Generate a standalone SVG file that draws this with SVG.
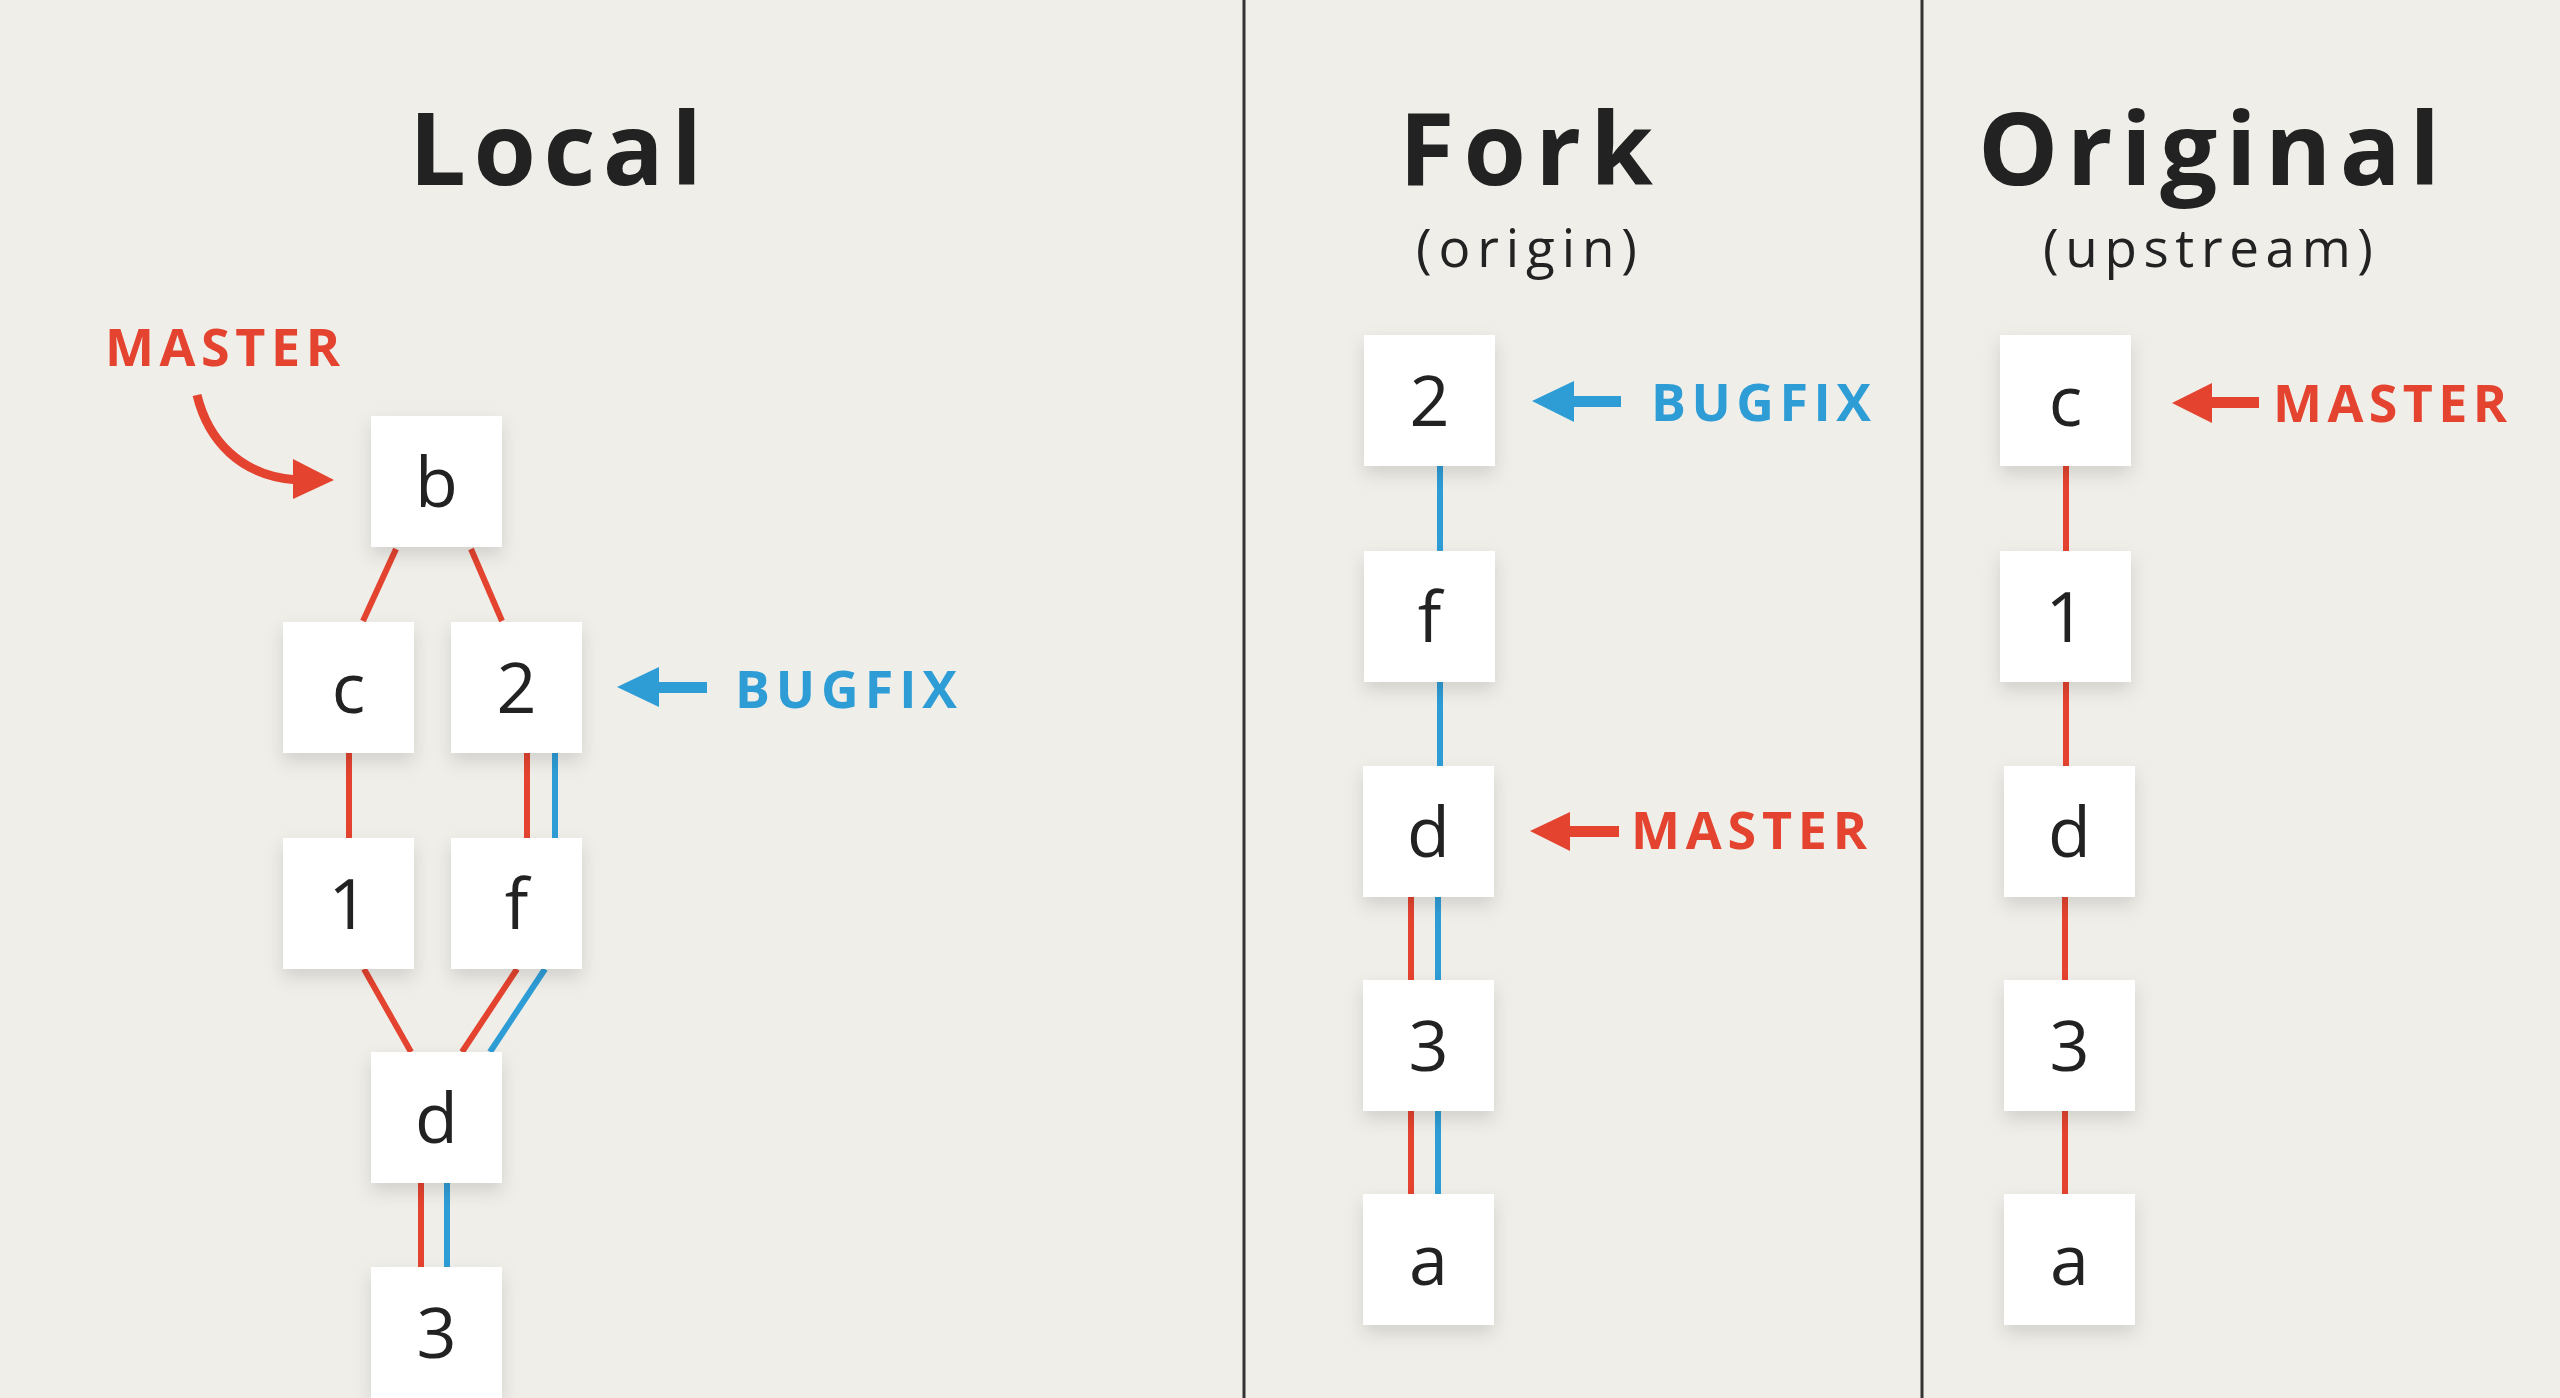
<svg xmlns="http://www.w3.org/2000/svg" width="2560" height="1398" viewBox="0 0 2560 1398">
<defs>
<filter id="sh" x="-30%" y="-30%" width="160%" height="170%">
<feDropShadow dx="0" dy="8" stdDeviation="9" flood-color="#000" flood-opacity="0.13"/>
</filter>
</defs>
<style>
.node rect{fill:#ffffff;filter:url(#sh)}
.node text{font-family:"Open Sans","Liberation Sans",sans-serif;font-size:70px;fill:#222;text-anchor:middle}
.title{font-family:"Open Sans","Liberation Sans",sans-serif;font-weight:700;font-size:101px;fill:#222}
.sub{font-family:"Open Sans","Liberation Sans",sans-serif;font-size:53px;fill:#222}
.lbl{font-family:"Open Sans","Liberation Sans",sans-serif;font-weight:700;font-size:52px}
.red{stroke:#e4432f;stroke-width:6;fill:none}
.blue{stroke:#2e9dd6;stroke-width:6;fill:none}
.rf{fill:#e4432f}
.bf{fill:#2e9dd6}
.div{stroke:#333;stroke-width:3}
</style>
<rect x="0" y="0" width="2560" height="1398" fill="#efeee9"/>
<g id="dividers">
<line class="div" x1="1244" y1="0" x2="1244" y2="1398"/>
<line class="div" x1="1922" y1="0" x2="1922" y2="1398"/>
</g>
<g id="titles">
<text class="title" x="409" y="185" textLength="293" lengthAdjust="spacing">Local</text>
<text class="title" x="1399" y="185" textLength="254" lengthAdjust="spacing">Fork</text>
<text class="sub" x="1416" y="267" textLength="221" lengthAdjust="spacing">(origin)</text>
<text class="title" x="1978" y="185" textLength="462" lengthAdjust="spacing">Original</text>
<text class="sub" x="2043" y="267" textLength="330" lengthAdjust="spacing">(upstream)</text>
</g>
<g id="connectors">
<line class="red" x1="396" y1="549" x2="363" y2="621"/>
<line class="red" x1="471" y1="549" x2="502" y2="621"/>
<line class="red" x1="349" y1="753" x2="349" y2="838"/>
<line class="red" x1="527" y1="753" x2="527" y2="838"/>
<line class="blue" x1="555" y1="753" x2="555" y2="838"/>
<line class="red" x1="364" y1="969" x2="411" y2="1052"/>
<line class="red" x1="517" y1="969" x2="462" y2="1052"/>
<line class="blue" x1="545" y1="969" x2="490" y2="1052"/>
<line class="red" x1="421" y1="1183" x2="421" y2="1267"/>
<line class="blue" x1="447" y1="1183" x2="447" y2="1267"/>
<line class="blue" x1="1440" y1="466" x2="1440" y2="551"/>
<line class="blue" x1="1440" y1="682" x2="1440" y2="766"/>
<line class="red" x1="1411" y1="897" x2="1411" y2="980"/>
<line class="blue" x1="1438" y1="897" x2="1438" y2="980"/>
<line class="red" x1="1411" y1="1111" x2="1411" y2="1194"/>
<line class="blue" x1="1438" y1="1111" x2="1438" y2="1194"/>
<line class="red" x1="2066" y1="466" x2="2066" y2="551"/>
<line class="red" x1="2066" y1="682" x2="2066" y2="766"/>
<line class="red" x1="2065" y1="897" x2="2065" y2="980"/>
<line class="red" x1="2065" y1="1111" x2="2065" y2="1194"/>
</g>
<g id="local-b" class="node"><rect x="371" y="416" width="131" height="131"/><text x="436.5" y="507">b</text></g>
<g id="local-c" class="node"><rect x="283" y="622" width="131" height="131"/><text x="348.5" y="713">c</text></g>
<g id="local-2" class="node"><rect x="451" y="622" width="131" height="131"/><text x="516.5" y="713">2</text></g>
<g id="local-1" class="node"><rect x="283" y="838" width="131" height="131"/><text x="348.5" y="929">1</text></g>
<g id="local-f" class="node"><rect x="451" y="838" width="131" height="131"/><text x="516.5" y="929">f</text></g>
<g id="local-d" class="node"><rect x="371" y="1052" width="131" height="131"/><text x="436.5" y="1143">d</text></g>
<g id="local-3" class="node"><rect x="371" y="1267" width="131" height="131"/><text x="436.5" y="1358">3</text></g>
<g id="fork-2" class="node"><rect x="1364" y="335" width="131" height="131"/><text x="1429.5" y="426">2</text></g>
<g id="fork-f" class="node"><rect x="1364" y="551" width="131" height="131"/><text x="1429.5" y="642">f</text></g>
<g id="fork-d" class="node"><rect x="1363" y="766" width="131" height="131"/><text x="1428.5" y="857">d</text></g>
<g id="fork-3" class="node"><rect x="1363" y="980" width="131" height="131"/><text x="1428.5" y="1071">3</text></g>
<g id="fork-a" class="node"><rect x="1363" y="1194" width="131" height="131"/><text x="1428.5" y="1285">a</text></g>
<g id="orig-c" class="node"><rect x="2000" y="335" width="131" height="131"/><text x="2065.5" y="426">c</text></g>
<g id="orig-1" class="node"><rect x="2000" y="551" width="131" height="131"/><text x="2065.5" y="642">1</text></g>
<g id="orig-d" class="node"><rect x="2004" y="766" width="131" height="131"/><text x="2069.5" y="857">d</text></g>
<g id="orig-3" class="node"><rect x="2004" y="980" width="131" height="131"/><text x="2069.5" y="1071">3</text></g>
<g id="orig-a" class="node"><rect x="2004" y="1194" width="131" height="131"/><text x="2069.5" y="1285">a</text></g>
<g id="local-master">
<text class="lbl rf" x="105" y="366" textLength="235" lengthAdjust="spacing">MASTER</text>
<path d="M197 395 C208 440 240 476 297 480" stroke="#e4432f" stroke-width="9" fill="none"/>
<polygon class="rf" points="293,459 334,480 293,499"/>
</g>
<g id="local-bugfix">
<polygon class="bf" points="617,687 659,667 659,707"/>
<rect class="bf" x="655" y="682" width="52" height="11"/>
<text class="lbl bf" x="735" y="708" textLength="222" lengthAdjust="spacing">BUGFIX</text>
</g>
<g id="fork-bugfix">
<polygon class="bf" points="1532,401 1574,381 1574,422"/>
<rect class="bf" x="1570" y="396" width="51" height="11"/>
<text class="lbl bf" x="1651" y="421" textLength="220" lengthAdjust="spacing">BUGFIX</text>
</g>
<g id="fork-master">
<polygon class="rf" points="1530,831 1570,812 1570,851"/>
<rect class="rf" x="1566" y="826" width="53" height="11"/>
<text class="lbl rf" x="1631" y="849" textLength="236" lengthAdjust="spacing">MASTER</text>
</g>
<g id="orig-master">
<polygon class="rf" points="2172,403 2212,383 2212,423"/>
<rect class="rf" x="2208" y="397" width="51" height="11"/>
<text class="lbl rf" x="2273" y="422" textLength="234" lengthAdjust="spacing">MASTER</text>
</g>
</svg>
